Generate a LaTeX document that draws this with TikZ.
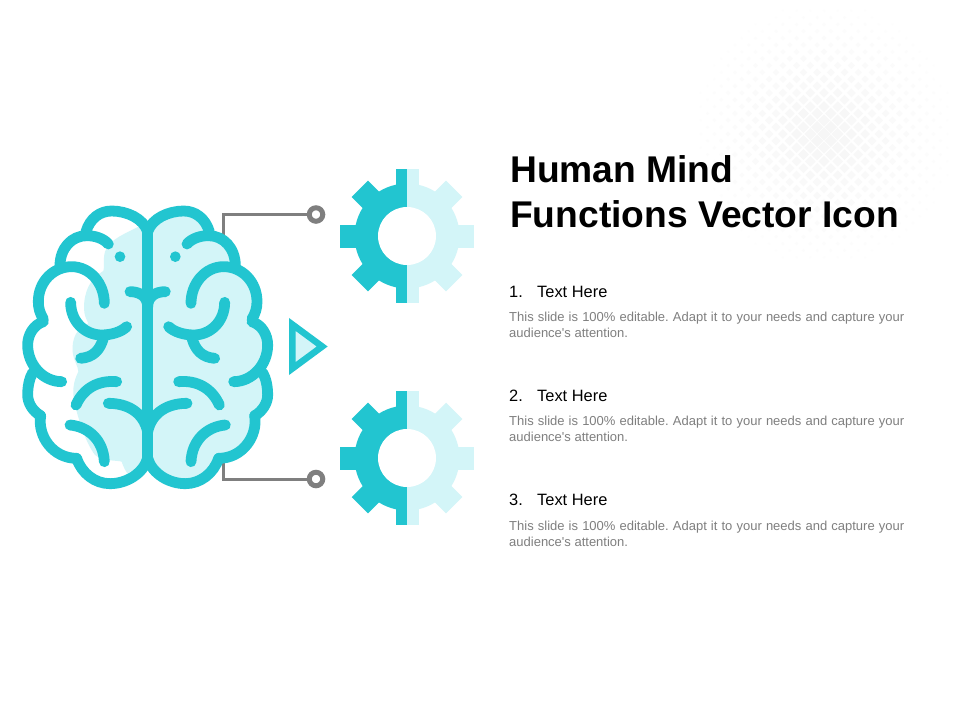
\documentclass[tikz,border=0pt]{standalone}
\usepackage{fontspec}
\setmainfont{Liberation Sans}
\newfontfamily\plainsans{Liberation Sans}
\definecolor{teal1}{HTML}{22C5D0}
\definecolor{pale1}{HTML}{D3F5F8}
\definecolor{gray1}{HTML}{7F7F7F}
\tikzset{
  brainline/.style={draw=teal1,line width=10.8pt,line cap=round,line join=round},
  conn/.style={draw=gray1,line width=3pt},
  ringnode/.style={circle,draw=gray1,line width=5pt,fill=white,minimum size=13.5pt,inner sep=0pt},
  titletext/.style={anchor=north west,inner sep=0pt,align=left,font=\fontsize{37.2}{45}\selectfont\bfseries},
  headtext/.style={anchor=base west,inner sep=0pt,font=\fontsize{16.4}{18}\selectfont},
  bodytext/.style={anchor=north west,inner sep=0pt,text width=395pt,align=justify,text=gray1,font=\fontsize{13}{16}\selectfont\plainsans\frenchspacing},
  tri/.style={draw=teal1,fill=pale1,line width=6.5pt,miter limit=10}
}
\def\brainfill{(413,110) .. controls (400,70) and (350,48) .. (305,48)
 .. controls (270,48) and (240,70) .. (228,112)
 -- (190,122) .. controls (170,130) and (150,160) .. (150,212)
 .. controls (110,225) and (85,265) .. (85,320)
 .. controls (85,340) and (90,355) .. (100,376)
 .. controls (70,390) and (53,420) .. (53,450)
 .. controls (53,490) and (60,515) .. (68,533)
 .. controls (58,550) and (53,575) .. (53,600)
 .. controls (53,625) and (70,650) .. (92,662)
 .. controls (82,725) and (130,790) .. (200,790)
 .. controls (215,835) and (255,866) .. (300,866)
 .. controls (350,866) and (400,835) .. (413,790) -- cycle}
\def\brainfolds{
 \draw[brainline] (413,110) -- (413,790);
 \draw[brainline] (228,110) .. controls (240,70) and (270,48) .. (305,48) .. controls (350,48) and (400,70) .. (413,110);
 \draw[brainline] (150,212) .. controls (150,160) and (185,122) .. (230,122) .. controls (255,122) and (280,130) .. (295,147);
 \draw[brainline] (100,372) .. controls (90,355) and (85,340) .. (85,320) .. controls (85,260) and (130,215) .. (185,215) .. controls (240,215) and (283,265) .. (283,325);
 \draw[brainline] (100,380) .. controls (70,390) and (53,420) .. (53,450) .. controls (53,510) and (100,560) .. (155,560);
 \draw[brainline] (68,533) .. controls (58,550) and (53,575) .. (53,600) .. controls (53,625) and (70,650) .. (92,662);
 \draw[brainline] (92,662) .. controls (82,725) and (130,790) .. (200,790);
 \draw[brainline] (200,790) .. controls (215,835) and (255,866) .. (300,866) .. controls (350,866) and (400,835) .. (413,790);
 \draw[brainline] (182,322) .. controls (182,380) and (225,420) .. (275,420) .. controls (305,420) and (335,410) .. (350,395);
 \draw[brainline] (280,430) .. controls (270,465) and (250,487) .. (212,490);
 \draw[brainline] (320,560) .. controls (265,555) and (220,580) .. (198,630);
 \draw[brainline] (295,625) .. controls (350,625) and (400,650) .. (413,710);
 \draw[brainline] (180,690) .. controls (235,695) and (280,735) .. (283,800);
 \draw[brainline] (360,290) .. controls (390,290) and (413,305) .. (413,335);
 \fill[teal1] (330,185) circle[radius=16];
}
\begin{document}
\begin{tikzpicture}[x=1pt,y=-1pt]
\useasboundingbox[fill=white] (0,0) rectangle (960,720);
% halftone
\foreach \i in {-20,...,20}{
 \foreach \j in {-20,...,20}{
  \pgfmathparse{int(mod(abs(\i+\j),2))}
  \ifnum\pgfmathresult=0
   \pgfmathsetmacro{\dd}{sqrt(\i*\i+\j*\j)*6.85}
   \ifdim\dd pt<130pt
    \pgfmathsetmacro{\hh}{5.8*(1-\dd/135)+0.8}
    \pgfmathsetmacro{\cc}{3.0*(1-\dd/135)+0.6}
    \fill[black!\cc!white] (824+\i*6.85-\hh,134+\j*6.85) -- (824+\i*6.85,134+\j*6.85-\hh) -- (824+\i*6.85+\hh,134+\j*6.85) -- (824+\i*6.85,134+\j*6.85+\hh) -- cycle;
   \fi
  \fi
 }
}
% connectors
\node[ringnode] (r1) at (316,214.5) {};
\node[ringnode] (r2) at (316,479) {};
\coordinate (b1) at (223.5,236);
\coordinate (b2) at (223.5,462);
\draw[conn] (b1) |- (r1);
\draw[conn] (b2) |- (r2);
% brain
\begin{scope}[shift={(10,195)},x=0.33333pt,y=-0.33333pt]
 \fill[pale1] (413,100) -- (385,95) .. controls (350,115) and (300,130) .. (285,170)
   .. controls (278,195) and (285,215) .. (280,228)
   .. controls (240,250) and (222,290) .. (222,340)
   .. controls (222,360) and (230,375) .. (235,385)
   .. controls (200,400) and (185,430) .. (188,470)
   .. controls (190,495) and (205,515) .. (205,530)
   .. controls (190,560) and (185,590) .. (195,630)
   .. controls (205,670) and (225,740) .. (255,780)
   .. controls (280,800) and (320,795) .. (335,800)
   .. controls (340,815) and (345,825) .. (352,835)
   -- (413,800) -- cycle;
 \begin{scope}[xshift=826*0.33333pt,xscale=-1]
  \fill[pale1] \brainfill;
  \brainfolds
 \end{scope}
 \brainfolds
\end{scope}
% triangle
\draw[tri] (292.25,324.4) -- (322.2,346.5) -- (292.25,368.6) -- cycle;
% gears
\foreach \cy in {236,458}{
 \begin{scope}[shift={(407,\cy)}]
  \begin{scope}
   \clip (-80,-80) rectangle (0,80);
   \foreach \a in {0,45,...,315}{\fill[teal1,rotate=\a] (-11.5,-48) rectangle (11.5,-66.8);}
   \fill[teal1] (0,0) circle[radius=52.5];
  \end{scope}
  \begin{scope}
   \clip (0,-80) rectangle (80,80);
   \foreach \a in {0,45,...,315}{\fill[pale1,rotate=\a] (-11.5,-48) rectangle (11.5,-66.8);}
   \fill[pale1] (0,0) circle[radius=52.5];
  \end{scope}
  \fill[white] (0,0) circle[radius=29];
 \end{scope}
}
% text
\node[titletext] (title) at (510,155) {Human Mind\\Functions Vector Icon};
\node[headtext] (h1) at (509,297) {\makebox[28pt][l]{1.}Text Here};
\node[bodytext] (t1) at (509,312) {This slide is 100\% editable. Adapt it to your needs and capture your \mbox{audience's} attention.};
\node[headtext] (h2) at (509,401) {\makebox[28pt][l]{2.}Text Here};
\node[bodytext] (t2) at (509,416) {This slide is 100\% editable. Adapt it to your needs and capture your \mbox{audience's} attention.};
\node[headtext] (h3) at (509,505.5) {\makebox[28pt][l]{3.}Text Here};
\node[bodytext] (t3) at (509,521) {This slide is 100\% editable. Adapt it to your needs and capture your \mbox{audience's} attention.};
\end{tikzpicture}
\end{document}
